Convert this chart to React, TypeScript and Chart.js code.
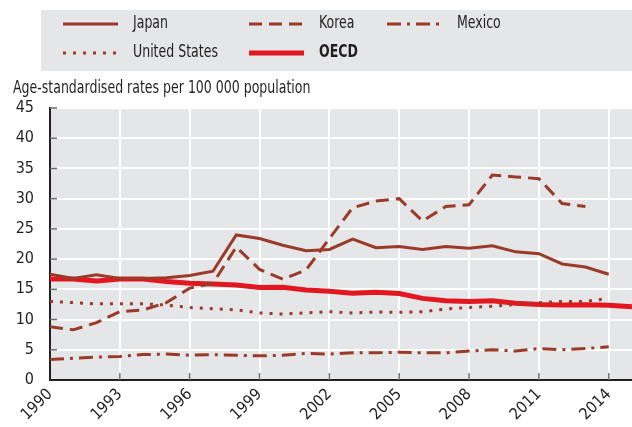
import React, { useEffect, useRef } from "react";
import { Chart, registerables } from "chart.js";

Chart.register(...registerables);

const years: number[] = [
  1990, 1991, 1992, 1993, 1994, 1995, 1996, 1997, 1998, 1999, 2000, 2001, 2002,
  2003, 2004, 2005, 2006, 2007, 2008, 2009, 2010, 2011, 2012, 2013, 2014, 2015,
];
const xTickYears: number[] = [1990, 1993, 1996, 1999, 2002, 2005, 2008, 2011, 2014];

const japan: (number | null)[] = [
  17.5, 16.8, 17.4, 16.8, 16.8, 16.9, 17.3, 18.0, 24.0, 23.4, 22.3, 21.4, 21.6,
  23.3, 21.9, 22.1, 21.6, 22.1, 21.8, 22.2, 21.2, 20.9, 19.2, 18.7, 17.5, null,
];
const korea: (number | null)[] = [
  8.8, 8.3, 9.5, 11.3, 11.6, 12.8, 15.2, 16.0, 22.0, 18.3, 16.7, 18.2, 23.4,
  28.5, 29.6, 30.0, 26.3, 28.7, 29.0, 33.9, 33.6, 33.3, 29.2, 28.7, null, null,
];
const mexico: (number | null)[] = [
  3.4, 3.6, 3.8, 3.9, 4.2, 4.3, 4.1, 4.2, 4.1, 4.0, 4.1, 4.4, 4.3,
  4.5, 4.5, 4.6, 4.5, 4.5, 4.8, 5.0, 4.8, 5.2, 5.0, 5.2, 5.5, null,
];
const unitedStates: (number | null)[] = [
  13.0, 12.8, 12.6, 12.6, 12.6, 12.4, 12.0, 11.8, 11.6, 11.1, 10.9, 11.1, 11.3,
  11.1, 11.25, 11.2, 11.3, 11.75, 12.0, 12.2, 12.5, 12.8, 13.0, 13.0, 13.5, null,
];
const oecd: (number | null)[] = [
  16.7, 16.7, 16.4, 16.7, 16.7, 16.3, 16.0, 15.9, 15.7, 15.3, 15.35, 14.9, 14.7,
  14.35, 14.5, 14.3, 13.5, 13.1, 13.0, 13.1, 12.7, 12.5, 12.4, 12.45, 12.35, 12.1,
];

const BROWN = "#9c3a2a";
const RED = "#e2171f";
const BG = "#e5e6e8";
const TEXT = "#231f20";
const FONT = "'Liberation Sans Narrow', 'DejaVu Sans Condensed', 'Liberation Sans', Arial, sans-serif";
const SQUEEZE = 0.82;

const toPts = (arr: (number | null)[]) =>
  years.map((y, i) => ({ x: y, y: arr[i] }));

type LegendItem = { label: string; color: string; width: number; dash: number[]; bold?: boolean; x: number; y: number };
const legendItems: LegendItem[] = [
  { label: "Japan", color: BROWN, width: 3, dash: [], x: 63, y: 24 },
  { label: "Korea", color: BROWN, width: 3, dash: [13, 7], x: 249, y: 24 },
  { label: "Mexico", color: BROWN, width: 3, dash: [14, 6, 3, 6], x: 387, y: 24 },
  { label: "United States", color: BROWN, width: 3, dash: [3, 7], x: 63, y: 53 },
  { label: "OECD", color: RED, width: 5, dash: [], bold: true, x: 249, y: 53 },
];

function squeezedText(ctx: CanvasRenderingContext2D, text: string, x: number, y: number) {
  ctx.save();
  ctx.translate(x, y);
  ctx.scale(SQUEEZE, 1);
  ctx.fillText(text, 0, 0);
  ctx.restore();
}

const decorPlugin = {
  id: "decor",
  beforeDraw(chart: any) {
    const ctx = chart.ctx;
    const a = chart.chartArea;
    ctx.save();
    ctx.fillStyle = BG;
    ctx.fillRect(a.left, a.top, a.right - a.left, a.bottom - a.top);
    // legend box
    ctx.fillRect(41, 10, 632 - 41, 61);
    ctx.textBaseline = "middle";
    ctx.textAlign = "left";
    for (const it of legendItems) {
      ctx.beginPath();
      ctx.strokeStyle = it.color;
      ctx.lineWidth = it.width;
      ctx.setLineDash(it.dash);
      ctx.moveTo(it.x, it.y);
      ctx.lineTo(it.x + 55, it.y);
      ctx.stroke();
      ctx.setLineDash([]);
      ctx.fillStyle = TEXT;
      ctx.font = (it.bold ? "bold " : "") + "17px " + FONT;
      squeezedText(ctx, it.label, it.x + 70, it.y);
    }
    // subtitle
    ctx.font = "17px " + FONT;
    ctx.fillStyle = TEXT;
    ctx.textBaseline = "alphabetic";
    squeezedText(ctx, "Age-standardised rates per 100 000 population", 13, 93);
    ctx.restore();
  },
  beforeDatasetsDraw(chart: any) {
    const ctx = chart.ctx;
    const a = chart.chartArea;
    const xs = chart.scales.x;
    const ys = chart.scales.y;
    ctx.save();
    ctx.strokeStyle = "#6d6e71";
    ctx.lineWidth = 1.5;
    for (let v = 5; v <= 45; v += 5) {
      const py = ys.getPixelForValue(v);
      ctx.beginPath();
      ctx.moveTo(a.left, py);
      ctx.lineTo(a.left + 7, py);
      ctx.stroke();
    }
    for (const yr of xTickYears) {
      if (yr === 1990) continue;
      const px = xs.getPixelForValue(yr);
      ctx.beginPath();
      ctx.moveTo(px, a.bottom);
      ctx.lineTo(px, a.bottom - 7);
      ctx.stroke();
    }
    ctx.restore();
  },
};

export default function App() {
  const ref = useRef<HTMLCanvasElement | null>(null);
  useEffect(() => {
    if (!ref.current) return;
    const mk = (label: string, data: (number | null)[], color: string, width: number, dash: number[]) => ({
      label,
      data: toPts(data),
      borderColor: color,
      backgroundColor: color,
      borderWidth: width,
      borderDash: dash,
      pointRadius: 0,
      tension: 0,
      fill: false,
      spanGaps: false,
    });
    const chart = new Chart(ref.current, {
      type: "line",
      data: {
        datasets: [
          mk("Mexico", mexico, BROWN, 3, [14, 6, 3, 6]),
          mk("United States", unitedStates, BROWN, 3, [3, 7]),
          mk("Korea", korea, BROWN, 3, [13, 7]),
          mk("Japan", japan, BROWN, 3, []),
          mk("OECD", oecd, RED, 5, []),
        ] as any,
      },
      options: {
        animation: false,
        responsive: false,
        devicePixelRatio: 1,
        layout: { padding: { top: 108, left: 0, right: 0, bottom: 0 } },
        plugins: { legend: { display: false }, tooltip: { enabled: false } },
        scales: {
          x: {
            type: "linear",
            min: 1990,
            max: 2015,
            afterBuildTicks: (scale: any) => {
              scale.ticks = xTickYears.map((v) => ({ value: v }));
            },
            afterFit: (scale: any) => {
              scale.height = 47;
            },
            grid: { color: "#ffffff", lineWidth: 2, drawTicks: false },
            border: { display: true, color: TEXT, width: 2 },
            ticks: {
              autoSkip: false,
              minRotation: 45,
              maxRotation: 45,
              padding: 5,
              color: TEXT,
              font: { family: FONT, size: 16 },
              callback: (v: any) => String(v),
            },
          },
          y: {
            min: 0,
            max: 45,
            afterFit: (scale: any) => {
              scale.width = 50;
            },
            grid: { color: "#ffffff", lineWidth: 2, drawTicks: false },
            border: { display: true, color: TEXT, width: 2 },
            ticks: {
              stepSize: 5,
              padding: 16,
              color: TEXT,
              font: { family: FONT, size: 16 },
            },
          },
        },
      },
      plugins: [decorPlugin],
    } as any);
    return () => chart.destroy();
  }, []);
  return (
    <div style={{ position: "absolute", left: 0, top: 0, width: 632, height: 427 }}>
      <canvas ref={ref} width={632} height={427} />
    </div>
  );
}
